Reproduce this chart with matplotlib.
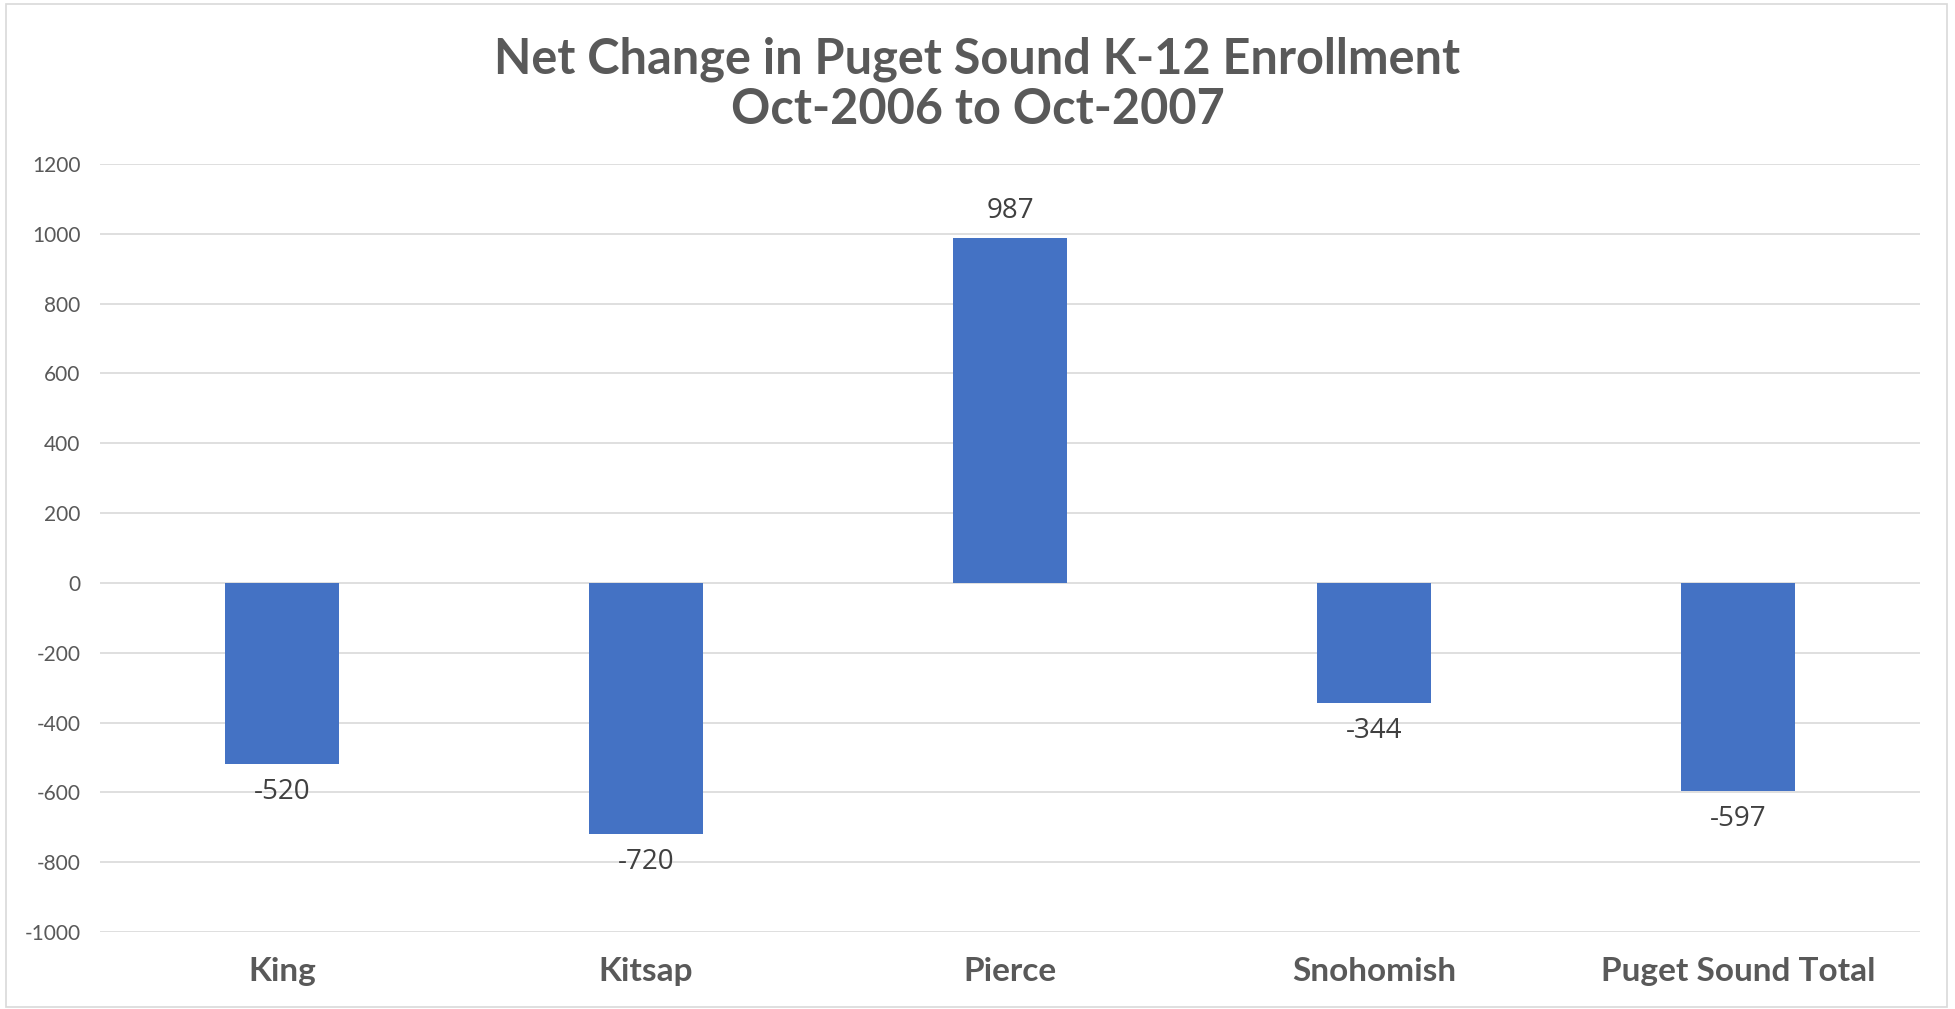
import numpy as np
import matplotlib.pyplot as plt
from matplotlib.patches import Rectangle

counties = ['King', 'Kitsap', 'Pierce', 'Snohomish', 'Puget Sound Total']
net_change = [-520, -720, 987, -344, -597]
yticks = list(range(-1000, 1201, 200))

W, H = 1955, 1009
fig = plt.figure(figsize=(W / 100, H / 100), dpi=100)
ax = fig.add_axes([100 / W, 1 - 932 / H, 1820 / W, 768 / H])

x = np.arange(len(counties))
ax.bar(x, net_change, width=0.313, color='#4472C4', zorder=3)

for xi, v in zip(x, net_change):
    off = 20 if v > 0 else -20
    ax.annotate(str(v), (xi, v), xytext=(0, off), textcoords='offset points',
                ha='center', va='center', fontsize=20, color='#404040',
                family='Open Sans')

ax.set_xlim(-0.5, len(counties) - 0.5)
ax.set_ylim(-1000, 1200)
ax.set_yticks(yticks)
ax.set_yticklabels([str(t) for t in yticks], family='Lato', fontsize=15, color='#595959')
ax.set_xticks(x)
ax.set_xticklabels(counties, family='Lato', fontweight='bold', fontsize=24, color='#595959')
ax.tick_params(axis='both', length=0)
ax.tick_params(axis='y', pad=14)
ax.tick_params(axis='x', pad=18)
ax.grid(axis='y', color='#D9D9D9', linewidth=1.2, zorder=0)
for s in ax.spines.values():
    s.set_visible(False)

fig.text(0.5, 1 - 59 / H, 'Net Change in Puget Sound K-12 Enrollment', ha='center', va='center',
         family='Lato', fontweight='bold', fontsize=35, color='#595959')
fig.text(0.5, 1 - 110 / H, 'Oct-2006 to Oct-2007', ha='center', va='center',
         family='Lato', fontweight='bold', fontsize=35, color='#595959')

fig.patches.append(Rectangle((6 / W, 2 / H), 1941 / W, 1003 / H, transform=fig.transFigure,
                             fill=False, edgecolor='#D9D9D9', linewidth=1.2))

fig.savefig('out.png', dpi=100)
